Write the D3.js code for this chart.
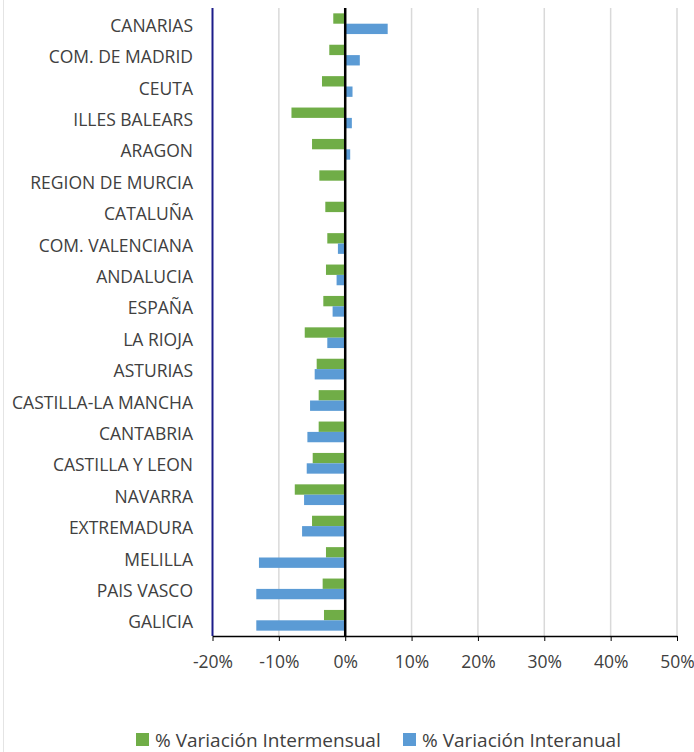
<!DOCTYPE html>
<html>
<head>
<meta charset="utf-8">
<script src="https://cdn.jsdelivr.net/npm/d3@7"></script>
<style>
  body { margin: 0; background: #fff; }
  svg { display: block; font-family: "Open Sans", "Noto Sans", sans-serif; }
</style>
</head>
<body>
<svg width="694" height="752"></svg>
<script>
// regions, top to bottom
const regions = ['CANARIAS', 'COM. DE MADRID', 'CEUTA', 'ILLES BALEARS', 'ARAGON',
    'REGION DE MURCIA', 'CATALUÑA', 'COM. VALENCIANA', 'ANDALUCIA', 'ESPAÑA',
    'LA RIOJA', 'ASTURIAS', 'CASTILLA-LA MANCHA', 'CANTABRIA', 'CASTILLA Y LEON',
    'NAVARRA', 'EXTREMADURA', 'MELILLA', 'PAIS VASCO', 'GALICIA'];

// % variación intermensual (green)
const intermensual = [-1.8, -2.4, -3.5, -8.1, -5.0, -3.9, -3.0, -2.7, -2.9, -3.3,
    -6.1, -4.3, -4.0, -4.0, -4.9, -7.6, -5.0, -2.9, -3.4, -3.2];

// % variación interanual (blue)
const interanual = [6.4, 2.2, 1.1, 1.0, 0.75, 0, -0.1, -1.1, -1.3, -1.9,
    -2.7, -4.6, -5.3, -5.7, -5.8, -6.2, -6.5, -13.0, -13.4, -13.4];

const xTicks = [-20, -10, 0, 10, 20, 30, 40, 50];
const seriesNames = ['% Variación Intermensual', '% Variación Interanual'];

const colors = {
    green: '#70AD47',
    blue: '#5B9BD5',
    grid: '#d9d9d9',
    text: '#404040'
};

const svg = d3.select('svg');
const margin = { left: 212.5, right: 17, top: 8, bottom: 116 };
const W = 694, H = 752;

const x = d3.scaleLinear().domain([-20, 50]).range([margin.left, W - margin.right]);
const y = d3.scaleBand().domain(regions).range([margin.top, H - margin.bottom]).paddingInner(0.34).paddingOuter(0.17);
const sub = d3.scaleBand().domain([0, 1]).range([0, y.bandwidth()]);

// faint outer frame on the left
svg.append('line').attr('x1', 3.5).attr('x2', 3.5).attr('y1', 0).attr('y2', H)
    .attr('stroke', '#e4e4e4').attr('stroke-width', 1);

// gridlines
svg.append('g').selectAll('line').data(xTicks.filter(d => d !== 0 && d !== -20)).join('line')
    .attr('x1', d => x(d)).attr('x2', d => x(d))
    .attr('y1', margin.top).attr('y2', H - margin.bottom)
    .attr('stroke', colors.grid).attr('stroke-width', 1.5);

// bars
const rows = regions.map((r, i) => ({ r, vals: [intermensual[i], interanual[i]] }));
const g = svg.append('g');
rows.forEach(row => {
    row.vals.forEach((v, k) => {
        g.append('rect')
            .attr('x', x(Math.min(0, v)))
            .attr('y', y(row.r) + sub(k))
            .attr('width', Math.abs(x(v) - x(0)))
            .attr('height', sub.bandwidth())
            .attr('fill', k === 0 ? colors.green : colors.blue);
    });
});

// zero line
svg.append('line').attr('x1', x(0)).attr('x2', x(0))
    .attr('y1', margin.top).attr('y2', H - margin.bottom)
    .attr('stroke', '#000').attr('stroke-width', 2.5);

// left axis line (navy)
svg.append('line').attr('x1', x(-20)).attr('x2', x(-20))
    .attr('y1', margin.top).attr('y2', H - margin.bottom)
    .attr('stroke', '#1c1c8a').attr('stroke-width', 2);

// bottom axis
const xAxis = svg.append('g')
    .attr('transform', `translate(0,${H - margin.bottom})`)
    .call(d3.axisBottom(x).tickValues(xTicks).tickFormat(d => d + '%').tickSize(5).tickSizeOuter(0));
xAxis.select('.domain').attr('stroke', '#000').attr('stroke-width', 1.5);
xAxis.selectAll('.tick line').attr('stroke', '#000').attr('stroke-width', 1);
xAxis.selectAll('.tick text').attr('fill', colors.text).attr('font-size', 17.5).attr('y', 20).attr('dy', '0.71em')
    .attr('font-family', '"Open Sans", sans-serif');

// category labels
svg.append('g').selectAll('text').data(regions).join('text')
    .attr('x', 193)
    .attr('y', d => y(d) + y.bandwidth() / 2 + 2)
    .attr('dy', '0.35em')
    .attr('text-anchor', 'end')
    .attr('font-size', 17.5)
    .attr('fill', colors.text)
    .text(d => d);

// legend
const legend = svg.append('g').attr('transform', 'translate(0,740)');
const legendX = [136, 403];
seriesNames.forEach((name, i) => {
    legend.append('rect').attr('x', legendX[i]).attr('y', -7).attr('width', 13).attr('height', 13)
        .attr('fill', i === 0 ? colors.green : colors.blue);
    legend.append('text').attr('x', legendX[i] + 19).attr('y', 0).attr('dy', '0.35em')
        .attr('font-size', 19).attr('fill', colors.text).text(name);
});
</script>
</body>
</html>
